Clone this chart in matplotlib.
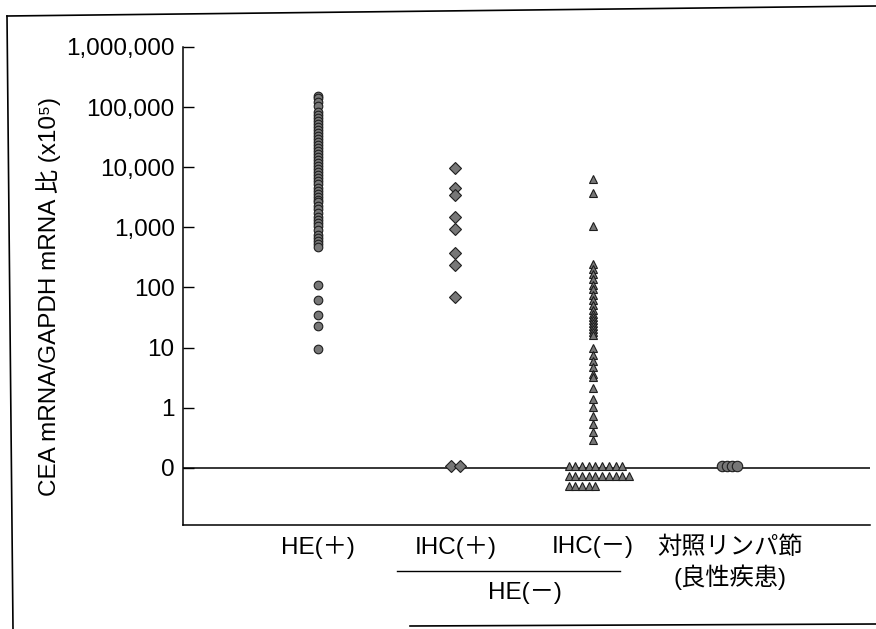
import matplotlib.pyplot as plt
import matplotlib.transforms as mtransforms
from matplotlib.lines import Line2D
import numpy as np

plt.rcParams['font.family'] = ['Liberation Sans', 'Noto Sans CJK JP']

# data (0 = below detection, drawn on the "0" line)
groups = ['HE(＋)', 'IHC(＋)', 'IHC(－)', '対照リンパ節\n(良性疾患)']

he_pos = [155000, 140000, 124000, 106000, 84000, 75000, 66000, 59000, 53000,
          47000, 42000, 37000, 33000, 29500, 26000, 23400, 20800, 18500,
          16500, 14700, 13100, 11600, 10400, 9300, 8200, 7300, 6500, 5800,
          5200, 4600, 4100, 3650, 3250, 2900, 2600, 2300, 2050, 1750, 1500,
          1350, 1200, 1060, 910, 750, 665, 590, 525, 470,
          110, 63, 35, 23, 9.5]

ihc_pos = [9600, 4600, 3500, 1500, 940, 370, 235, 70, 0, 0]

ihc_neg = [6300, 3800, 1060,
           245, 200, 166, 136, 112, 93, 76, 63, 52, 43, 36.5, 32.5, 29, 26,
           23, 20.5, 18.2, 16.2,
           9.8, 7.5, 5.9, 4.7, 3.7, 3.2,
           2.1, 1.4, 1.04, 0.73, 0.54, 0.39, 0.29] + [0] * 24

control = [0, 0, 0, 0]

yticks = [0.1, 1, 10, 100, 1000, 10000, 100000, 1000000]
ytick_labels = ['0', '1', '10', '100', '1,000', '10,000', '100,000', '1,000,000']

fig = plt.figure(figsize=(8.76, 6.29), dpi=100)
ax = fig.add_axes([183 / 876, 1 - 525 / 629, (870 - 183) / 876, (525 - 47) / 629])

px = 1 / 137.3          # one pixel in category units
face = '#777777'
edge = '#1e1e1e'


def place_zeros(rows, step, start=None):
    # spread the zero values in rows on and under the "0" line
    xs, ys = [], []
    for i, n in enumerate(rows):
        if start is None:
            off = (np.arange(n) - (n - 1) / 2) * step
        else:
            off = start + np.arange(n) * step
        xs.extend(off)
        ys.extend([0.108 * 10 ** (-0.165 * i)] * n)
    return np.array(xs), np.array(ys)


def draw(pos, vals, marker, size, rows, step, start=None):
    vals = np.array(vals, dtype=float)
    nz = vals[vals > 0]
    ax.plot(np.full(len(nz), pos), nz, ls='none', marker=marker, ms=size,
            mfc=face, mec=edge, mew=0.8, zorder=3)
    if rows:
        xs, ys = place_zeros(rows, step, start)
        ax.plot(pos + xs, ys, ls='none', marker=marker, ms=size,
                mfc=face, mec=edge, mew=0.8, zorder=3)


draw(0, he_pos, 'o', 6.2, [], 0)
draw(1, ihc_pos, 'D', 6.0, [2], 9 * px)
draw(2, ihc_neg, '^', 6.0, [9, 10, 5], 6.7 * px, start=-24 * px)
draw(3, control, 'o', 7.5, [4], 5 * px)

ax.axhline(0.1, color='black', lw=1.1, zorder=2)

ax.set_yscale('log')
ax.set_ylim(0.0112, 1000000)
ax.set_xlim(-0.983, 4.02)
ax.set_yticks(yticks)
ax.set_yticklabels(ytick_labels)
ax.minorticks_off()
ax.tick_params(axis='y', direction='in', length=8, width=1, labelsize=17.5, pad=6)
ax.set_xticks(range(len(groups)))
ax.set_xticklabels(groups)
ax.tick_params(axis='x', length=0, labelsize=17.5, pad=8)
for t in ax.get_xticklabels():
    t.set_linespacing(1.3)

for s in ['top', 'right']:
    ax.spines[s].set_visible(False)
ax.spines['left'].set_linewidth(1.1)
ax.spines['bottom'].set_linewidth(1.1)

fig.text(49 / 876, 1 - 297 / 629, 'CEA mRNA/GAPDH mRNA 比 (x10⁵)',
         rotation=90, ha='center', va='center', fontsize=17.5)

# HE(-) grouping bar under IHC(+)/IHC(-)
bt = mtransforms.blended_transform_factory(ax.transData, fig.transFigure)
ax.add_artist(Line2D([0.575, 2.2], [1 - 571 / 629] * 2, transform=bt,
                     color='black', lw=1, clip_on=False))
ax.text(1.51, 1 - 593 / 629, 'HE(－)', transform=bt, ha='center',
        va='center', fontsize=17.5)

# scan border
def fline(xp, yp):
    fig.add_artist(Line2D([x / 876 for x in xp], [1 - y / 629 for y in yp],
                          transform=fig.transFigure, color='black', lw=1.2))

fline([7, 876], [16, 6])
fline([7, 13], [16, 629])
fline([410, 876], [626, 624])

fig.savefig('out.png', dpi=100)
